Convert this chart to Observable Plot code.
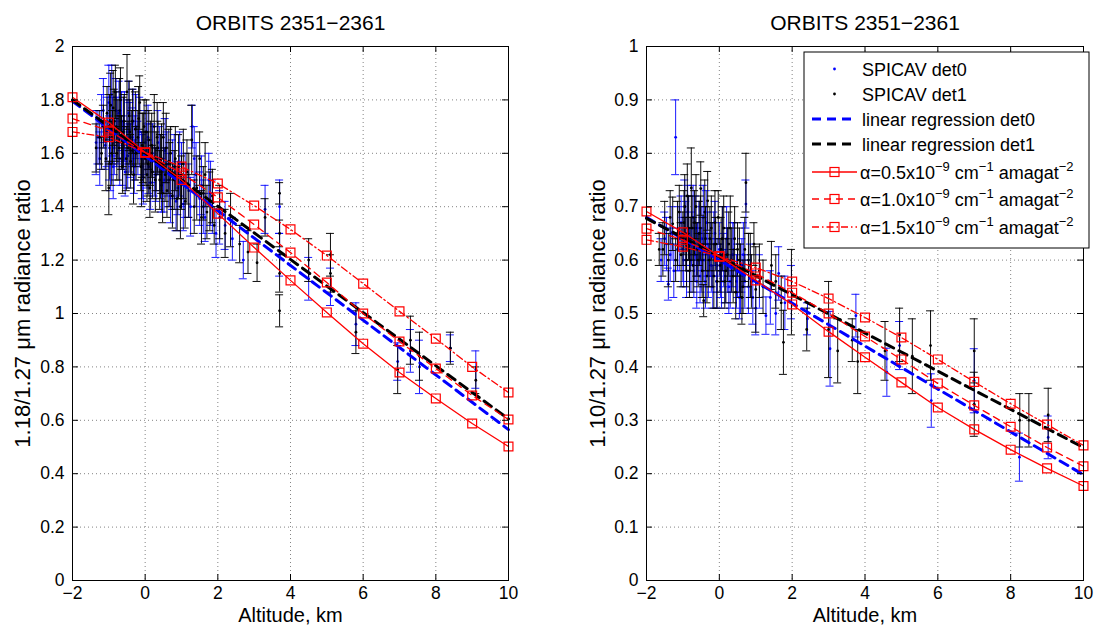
<!DOCTYPE html>
<html><head><meta charset="utf-8">
<script src="https://cdn.jsdelivr.net/npm/d3@7"></script>
<script src="https://cdn.jsdelivr.net/npm/@observablehq/plot@0.6"></script>
<style>body{margin:0;background:#fff}#wrap{display:flex;width:1096px;height:627px;background:#fff}</style>
</head><body><div id="wrap"></div><script>
const FONT = "'Liberation Sans', Arial, Helvetica, sans-serif";
const BLUE = "#0000ff", RED = "#ff0000";
const title = "ORBITS 2351−2361";
const xLabel = "Altitude, km";
const leftYLabel = "1.18/1.27 μm radiance ratio";
const rightYLabel = "1.10/1.27 μm radiance ratio";
const xTicks = [-2, 0, 2, 4, 6, 8, 10];
const leftYTicks = [0, 0.2, 0.4, 0.6, 0.8, 1, 1.2, 1.4, 1.6, 1.8, 2];
const rightYTicks = [0, 0.1, 0.2, 0.3, 0.4, 0.5, 0.6, 0.7, 0.8, 0.9, 1];
const legendLabels = ["SPICAV det0", "SPICAV det1", "linear regression det0", "linear regression det1"];
const alphaLabels = ["0.5", "1.0", "1.5"];

// model curves at integer altitudes
const modelAlt = [-2, -1, 0, 1, 2, 3, 4, 5, 6, 7, 8, 9, 10];
const leftA05 = [1.81, 1.715, 1.603, 1.50, 1.374, 1.247, 1.124, 1.004, 0.887, 0.779, 0.682, 0.588, 0.502];
const leftA10 = [1.73, 1.685, 1.603, 1.525, 1.435, 1.333, 1.228, 1.116, 1.0, 0.895, 0.794, 0.693, 0.603];
const leftA15 = [1.68, 1.66, 1.603, 1.55, 1.487, 1.404, 1.315, 1.217, 1.112, 1.008, 0.906, 0.80, 0.704];
const rightA05 = [0.691, 0.652, 0.607, 0.562, 0.517, 0.466, 0.418, 0.371, 0.324, 0.283, 0.245, 0.210, 0.177];
const rightA10 = [0.659, 0.638, 0.607, 0.575, 0.539, 0.500, 0.457, 0.414, 0.369, 0.328, 0.288, 0.249, 0.214];
const rightA15 = [0.638, 0.625, 0.607, 0.586, 0.560, 0.528, 0.4925, 0.455, 0.414, 0.372, 0.331, 0.292, 0.253];

// linear regressions (endpoints)
const regAlt = [-2, 10];
const leftReg0 = [1.795, 0.565];
const leftReg1 = [1.80, 0.605];
const rightReg0 = [0.68, 0.198];
const rightReg1 = [0.678, 0.249];

// observations [altitude, ratio, error]
const leftDet0 = [
  [-1.3,1.66,0.1],[-1.2,1.72,0.1],[-1.1,1.63,0.09],[-1.0,1.79,0.14],[-0.95,1.56,0.1],[-0.9,1.70,0.11],
  [-0.85,1.62,0.1],[-0.8,1.76,0.12],[-0.75,1.66,0.1],[-0.7,1.58,0.1],[-0.65,1.72,0.11],[-0.6,1.64,0.1],
  [-0.55,1.53,0.09],[-0.5,1.68,0.12],[-0.45,1.75,0.12],[-0.4,1.61,0.1],[-0.35,1.66,0.11],[-0.3,1.55,0.1],
  [-0.25,1.70,0.12],[-0.2,1.62,0.1],[-0.1,1.58,0.1],[-0.05,1.51,0.1],[0.0,1.64,0.12],[0.1,1.55,0.1],
  [0.15,1.49,0.1],[0.2,1.60,0.11],[0.3,1.52,0.1],[0.35,1.64,0.12],[0.45,1.48,0.1],[0.5,1.56,0.11],
  [0.55,1.61,0.12],[0.65,1.50,0.1],[0.7,1.44,0.1],[0.8,1.55,0.12],[0.9,1.47,0.1],[1.0,1.52,0.12],
  [1.05,1.41,0.1],[1.2,1.46,0.1],[1.3,1.70,0.08],[1.4,1.52,0.12],[1.5,1.43,0.1],[1.65,1.36,0.09],
  [1.75,1.50,0.1],[1.85,1.40,0.1],[1.95,1.30,0.09],
  [-1.35,1.64,0.12],[-1.25,1.58,0.1],[-1.15,1.76,0.12],[-1.05,1.68,0.13],[-0.98,1.62,0.12],[-0.92,1.82,0.11],
  [-0.88,1.55,0.12],[-0.78,1.68,0.13],[-0.72,1.75,0.12],[-0.62,1.60,0.12],[-0.57,1.70,0.13],[-0.48,1.59,0.12],
  [-0.42,1.66,0.13],[-0.33,1.72,0.12],[-0.28,1.62,0.12],[-0.15,1.68,0.13],[-0.08,1.55,0.12],[0.05,1.59,0.12],
  [0.08,1.66,0.12],[0.25,1.57,0.13],[0.4,1.58,0.12],[0.52,1.50,0.12],[0.6,1.56,0.12],[0.75,1.52,0.13],
  [0.85,1.42,0.11],[0.95,1.56,0.12],[1.1,1.48,0.12],[1.25,1.40,0.11],[1.35,1.58,0.12],[1.55,1.48,0.11],
  [1.6,1.40,0.1],[1.8,1.45,0.12],[2.05,1.36,0.1],[2.2,1.33,0.09],
  [2.4,1.28,0.08],[2.7,1.20,0.07],[3.3,1.39,0.09],[3.7,1.40,0.1],[3.7,1.22,0.08],[4.5,1.13,0.08],
  [5.1,1.10,0.07],[5.8,0.96,0.08],[6.95,0.82,0.07],[7.3,0.86,0.08],[7.55,0.80,0.1],[8.4,0.87,0.05],[9.1,0.79,0.07]
];
const leftDet1 = [
  [-1.35,1.62,0.09],[-1.2,1.60,0.06],[-1.15,1.70,0.08],[-1.05,1.75,0.1],[-1.0,1.47,0.1],[-0.95,1.78,0.12],
  [-0.9,1.66,0.1],[-0.85,1.72,0.12],[-0.82,1.83,0.1],[-0.78,1.60,0.1],[-0.75,1.69,0.11],[-0.7,1.76,0.12],
  [-0.65,1.64,0.1],[-0.62,1.55,0.1],[-0.58,1.72,0.1],[-0.5,1.83,0.14],[-0.47,1.62,0.1],[-0.42,1.68,0.12],
  [-0.4,1.57,0.1],[-0.35,1.72,0.12],[-0.25,1.60,0.1],[-0.2,1.66,0.1],[-0.15,1.79,0.1],[-0.12,1.55,0.09],
  [-0.08,1.63,0.12],[-0.03,1.70,0.1],[0.0,1.58,0.1],[0.05,1.52,0.1],[0.1,1.65,0.11],[0.15,1.60,0.12],
  [0.2,1.53,0.1],[0.25,1.70,0.12],[0.3,1.57,0.11],[0.35,1.62,0.1],[0.4,1.50,0.11],[0.45,1.58,0.13],
  [0.5,1.66,0.13],[0.55,1.52,0.1],[0.6,1.46,0.1],[0.65,1.57,0.12],[0.7,1.60,0.1],[0.8,1.50,0.11],
  [0.88,1.43,0.12],[0.92,1.55,0.12],[1.0,1.49,0.1],[1.1,1.42,0.1],[1.15,1.53,0.12],[1.28,1.65,0.13],
  [1.35,1.40,0.1],[1.5,1.58,0.1],[1.6,1.45,0.1],[1.7,1.38,0.1],[1.85,1.44,0.1],[1.9,1.33,0.07],
  [-1.25,1.66,0.1],[-1.08,1.58,0.12],[-0.98,1.69,0.13],[-0.92,1.60,0.12],[-0.88,1.77,0.14],[-0.8,1.70,0.13],
  [-0.72,1.62,0.12],[-0.68,1.80,0.12],[-0.6,1.68,0.13],[-0.52,1.58,0.12],[-0.44,1.74,0.13],[-0.37,1.64,0.12],
  [-0.32,1.52,0.11],[-0.27,1.69,0.14],[-0.18,1.73,0.12],[-0.1,1.50,0.1],[-0.05,1.62,0.13],[0.03,1.68,0.12],
  [0.08,1.56,0.12],[0.13,1.47,0.11],[0.18,1.63,0.12],[0.28,1.50,0.12],[0.33,1.66,0.13],[0.42,1.55,0.12],
  [0.48,1.45,0.11],[0.58,1.62,0.13],[0.68,1.52,0.12],[0.75,1.44,0.12],[0.83,1.58,0.12],[0.97,1.40,0.12],
  [1.05,1.56,0.13],[1.2,1.48,0.12],[1.42,1.47,0.12],[1.55,1.36,0.1],[1.65,1.52,0.12],[1.78,1.42,0.11],
  [2.05,1.38,0.1],[2.2,1.30,0.09],
  [2.35,1.35,0.1],[2.6,1.26,0.07],[2.83,1.23,0.08],[3.08,1.19,0.07],[3.3,1.36,0.07],[3.7,1.45,0.04],
  [3.7,1.30,0.05],[3.7,1.15,0.07],[3.7,1.01,0.06],[4.5,1.20,0.08],[5.1,1.22,0.08],[5.1,1.15,0.07],
  [5.8,0.93,0.08],[6.95,0.79,0.09],[7.3,0.90,0.09],[7.55,0.84,0.09],[8.4,0.87,0.06],[9.1,0.75,0.05]
];
const rightDet0 = [
  [-1.6,0.60,0.04],[-1.45,0.63,0.05],[-1.4,0.555,0.03],[-1.3,0.65,0.05],[-1.2,0.83,0.07],[-1.15,0.62,0.04],
  [-1.05,0.67,0.05],[-0.98,0.60,0.05],[-0.92,0.65,0.06],[-0.87,0.69,0.05],[-0.82,0.61,0.05],[-0.76,0.64,0.05],
  [-0.7,0.58,0.05],[-0.65,0.66,0.06],[-0.6,0.62,0.05],[-0.53,0.57,0.05],[-0.48,0.64,0.06],[-0.42,0.60,0.05],
  [-0.36,0.67,0.06],[-0.3,0.58,0.05],[-0.25,0.62,0.05],[-0.18,0.55,0.04],[-0.12,0.65,0.06],[-0.06,0.59,0.05],
  [0.0,0.62,0.05],[0.06,0.56,0.05],[0.12,0.60,0.05],[0.2,0.64,0.06],[0.26,0.55,0.05],[0.33,0.59,0.05],
  [0.4,0.62,0.05],[0.47,0.56,0.05],[0.55,0.53,0.04],[0.62,0.59,0.05],[0.7,0.56,0.05],[0.73,0.705,0.045],
  [0.85,0.58,0.05],[0.92,0.53,0.05],
  [-1.5,0.64,0.05],[-1.35,0.61,0.05],[-1.25,0.58,0.05],[-1.1,0.64,0.06],[-1.0,0.62,0.06],[-0.95,0.70,0.05],
  [-0.9,0.58,0.05],[-0.84,0.66,0.06],[-0.78,0.60,0.06],[-0.72,0.68,0.06],[-0.67,0.61,0.05],[-0.62,0.56,0.05],
  [-0.56,0.65,0.06],[-0.5,0.60,0.06],[-0.44,0.68,0.06],[-0.38,0.56,0.05],[-0.32,0.63,0.06],[-0.22,0.59,0.05],
  [-0.15,0.63,0.06],[-0.08,0.56,0.05],[0.03,0.58,0.05],[0.09,0.64,0.06],[0.16,0.57,0.05],[0.23,0.60,0.06],
  [0.3,0.56,0.05],[0.37,0.61,0.06],[0.5,0.58,0.05],[0.58,0.55,0.05],[0.66,0.61,0.06],[0.8,0.55,0.05],
  [1.1,0.56,0.05],[1.4,0.53,0.05],[1.55,0.50,0.04],[1.8,0.52,0.05],
  [1.0,0.51,0.05],[1.28,0.496,0.035],[1.63,0.575,0.05],[1.98,0.54,0.05],
  [2.42,0.49,0.03],[3.04,0.434,0.07],[3.75,0.496,0.04],[4.6,0.39,0.045],[4.95,0.44,0.045],[5.82,0.337,0.05],
  [7.0,0.374,0.06],[8.24,0.231,0.045],[9.03,0.268,0.04]
];
const rightDet1 = [
  [-1.65,0.62,0.03],[-1.5,0.66,0.05],[-1.28,0.668,0.05],[-1.2,0.60,0.04],[-1.1,0.69,0.05],[-1.0,0.64,0.05],
  [-0.95,0.70,0.06],[-0.9,0.60,0.05],[-0.85,0.66,0.06],[-0.8,0.63,0.05],[-0.77,0.735,0.075],[-0.72,0.59,0.05],
  [-0.68,0.67,0.06],[-0.62,0.62,0.05],[-0.55,0.65,0.06],[-0.51,0.734,0.05],[-0.47,0.58,0.05],[-0.43,0.524,0.03],
  [-0.38,0.64,0.06],[-0.32,0.711,0.055],[-0.28,0.60,0.05],[-0.22,0.66,0.06],[-0.15,0.57,0.06],[-0.1,0.63,0.05],
  [-0.03,0.68,0.05],[0.02,0.59,0.05],[0.08,0.64,0.06],[0.15,0.56,0.05],[0.22,0.61,0.05],[0.3,0.66,0.06],
  [0.38,0.57,0.05],[0.45,0.54,0.05],[0.5,0.62,0.05],[0.58,0.58,0.05],[0.65,0.55,0.05],[0.73,0.745,0.055],
  [0.8,0.60,0.05],[0.88,0.56,0.05],[0.95,0.63,0.04],
  [-1.55,0.62,0.05],[-1.4,0.60,0.05],[-1.35,0.68,0.05],[-1.15,0.65,0.06],[-1.05,0.61,0.06],[-0.97,0.67,0.06],
  [-0.92,0.63,0.05],[-0.88,0.72,0.06],[-0.82,0.58,0.05],[-0.75,0.66,0.06],[-0.7,0.62,0.06],[-0.64,0.70,0.06],
  [-0.58,0.60,0.05],[-0.52,0.66,0.06],[-0.45,0.62,0.06],[-0.4,0.69,0.06],[-0.34,0.57,0.05],[-0.26,0.64,0.06],
  [-0.2,0.61,0.06],[-0.12,0.67,0.06],[-0.06,0.56,0.05],[0.05,0.62,0.06],[0.12,0.66,0.06],[0.18,0.58,0.06],
  [0.26,0.63,0.06],[0.34,0.60,0.06],[0.42,0.64,0.06],[0.55,0.60,0.06],[0.62,0.53,0.05],[0.7,0.62,0.06],
  [0.85,0.59,0.06],[1.1,0.58,0.05],[1.2,0.55,0.05],[1.55,0.56,0.05],[1.7,0.52,0.05],
  [1.0,0.545,0.08],[1.43,0.59,0.045],[1.76,0.446,0.06],[1.98,0.54,0.08],[2.4,0.47,0.04],[3.0,0.47,0.09],
  [3.25,0.43,0.06],[3.65,0.45,0.04],[3.8,0.41,0.06],[4.55,0.43,0.055],[4.95,0.46,0.05],[5.3,0.42,0.07],
  [5.8,0.44,0.065],[7.0,0.43,0.06],[7.0,0.33,0.06],[8.25,0.30,0.05],[8.5,0.30,0.05],[9.03,0.31,0.05]
];

const fmt = d3.format("~g");
const capW = 0.11;

function panel(o) {
  const [y0, y1] = o.yDomain;
  const tlY = (y1 - y0) * 6 / 534;
  const tlX = 12 * 6 / 437;
  const rows = d => d.map(([a, v, e]) => ({a, v, e}));
  const d0 = rows(o.det0), d1 = rows(o.det1);
  const model = vals => modelAlt.map((a, i) => ({a, v: vals[i]}));
  const reg = vals => regAlt.map((a, i) => ({a, v: vals[i]}));
  const errMarks = (d, color, op) => [
    Plot.ruleX(d, {x: "a", y1: r => r.v - r.e, y2: r => r.v + r.e, stroke: color, strokeWidth: 1, strokeOpacity: op}),
    Plot.ruleY(d, {y: r => r.v - r.e, x1: r => r.a - capW, x2: r => r.a + capW, stroke: color, strokeOpacity: op}),
    Plot.ruleY(d, {y: r => r.v + r.e, x1: r => r.a - capW, x2: r => r.a + capW, stroke: color, strokeOpacity: op}),
    Plot.dot(d, {x: "a", y: "v", r: 1.4, fill: color})
  ];
  const lineOpts = dash => ({x: "a", y: "v", stroke: RED, strokeWidth: 1.3, strokeDasharray: dash});
  const sqOpts = {x: "a", y: "v", symbol: "square", r: 5, stroke: RED, strokeWidth: 1.2, fill: "none"};
  return Plot.plot({
    width: 548, height: 627,
    marginLeft: o.ml, marginRight: o.mr, marginTop: 46, marginBottom: 47,
    x: {domain: [-2, 10]},
    y: {domain: o.yDomain},
    style: {fontFamily: FONT, fontSize: "18px", color: "#000", background: "#fff", overflow: "visible"},
    marks: [
      Plot.gridX(xTicks, {stroke: "#777", strokeOpacity: 0.9, strokeDasharray: "1,3"}),
      Plot.gridY(o.yTicks, {stroke: "#777", strokeOpacity: 0.9, strokeDasharray: "1,3"}),
      ...errMarks(d0, BLUE, 0.9),
      ...errMarks(d1, "#000", 0.95),
      Plot.line(reg(o.reg0), {x: "a", y: "v", stroke: BLUE, strokeWidth: 3, strokeDasharray: "9,6"}),
      Plot.line(reg(o.reg1), {x: "a", y: "v", stroke: "#000", strokeWidth: 3, strokeDasharray: "9,6"}),
      Plot.line(model(o.a05), lineOpts(null)),
      Plot.line(model(o.a10), lineOpts("7,5")),
      Plot.line(model(o.a15), lineOpts("7,3,1.5,3")),
      Plot.dot(model(o.a05), sqOpts),
      Plot.dot(model(o.a10), sqOpts),
      Plot.dot(model(o.a15), sqOpts),
      Plot.frame({stroke: "#000"}),
      Plot.ruleX(xTicks, {y1: y0, y2: y0 + tlY, stroke: "#000"}),
      Plot.ruleX(xTicks, {y1: y1 - tlY, y2: y1, stroke: "#000"}),
      Plot.ruleY(o.yTicks, {x1: -2, x2: -2 + tlX, stroke: "#000"}),
      Plot.ruleY(o.yTicks, {x1: 10 - tlX, x2: 10, stroke: "#000"}),
      Plot.axisX(xTicks, {tickSize: 0, tickPadding: 6, tickFormat: fmt, fontSize: 17.5, label: null}),
      Plot.axisY(o.yTicks, {tickSize: 0, tickPadding: 8, tickFormat: fmt, fontSize: 17.5, label: null}),
      Plot.text([title], {frameAnchor: "top", lineAnchor: "middle", dy: -23, fontSize: 21, fill: "#000"}),
      Plot.text([xLabel], {frameAnchor: "bottom", lineAnchor: "middle", dy: 35.5, fontSize: 20, fill: "#000"}),
      Plot.text([o.ylabel], {frameAnchor: "left", textAnchor: "middle", lineAnchor: "middle", rotate: -90, dx: o.ydx, fontSize: 22, fill: "#000"})
    ]
  });
}

const left = panel({yDomain: [0, 2], yTicks: leftYTicks, ylabel: leftYLabel, det0: leftDet0, det1: leftDet1,
  reg0: leftReg0, reg1: leftReg1, a05: leftA05, a10: leftA10, a15: leftA15, ml: 72, mr: 40, ydx: -50});
const right = panel({yDomain: [0, 1], yTicks: rightYTicks, ylabel: rightYLabel, det0: rightDet0, det1: rightDet1,
  reg0: rightReg0, reg1: rightReg1, a05: rightA05, a10: rightA10, a15: rightA15, ml: 98, mr: 13, ydx: -49});

document.getElementById("wrap").append(left, right);

// legend (right panel)
const svg = d3.select(right);
const g = svg.append("g").attr("font-family", FONT).attr("font-size", 18).attr("text-anchor", "start").attr("fill", "#000");
g.append("rect").attr("x", 256).attr("y", 52).attr("width", 285).attr("height", 196)
  .attr("fill", "#fff").attr("stroke", "#000");
const rowY = [69, 94, 119, 144, 172, 199, 227];
const sx1 = 264, sx2 = 309, sxm = 286.5, tx = 314;
[BLUE, "#000"].forEach((c, i) => {
  g.append("circle").attr("cx", sxm).attr("cy", rowY[i]).attr("r", 1.4).attr("fill", c);
});
[BLUE, "#000"].forEach((c, i) => {
  g.append("line").attr("x1", sx1).attr("x2", sx2).attr("y1", rowY[i + 2]).attr("y2", rowY[i + 2])
    .attr("stroke", c).attr("stroke-width", 3).attr("stroke-dasharray", "9,6");
});
legendLabels.forEach((t, i) => {
  g.append("text").attr("x", tx).attr("y", rowY[i] + 6.5).text(t);
});
const dashes = [null, "7,5", "7,3,1.5,3"];
alphaLabels.forEach((a, i) => {
  const y = rowY[i + 4];
  const ln = g.append("line").attr("x1", sx1).attr("x2", sx2).attr("y1", y).attr("y2", y)
    .attr("stroke", RED).attr("stroke-width", 1.3);
  if (dashes[i]) ln.attr("stroke-dasharray", dashes[i]);
  g.append("rect").attr("x", sxm - 4.5).attr("y", y - 4.5).attr("width", 9).attr("height", 9)
    .attr("fill", "none").attr("stroke", RED).attr("stroke-width", 1.2);
  const t = g.append("text").attr("x", tx - 2).attr("y", y + 7);
  t.append("tspan").text("α=" + a + "x10");
  t.append("tspan").attr("dy", -8).attr("font-size", 13).text("−9");
  t.append("tspan").attr("dy", 8).text(" cm");
  t.append("tspan").attr("dy", -8).attr("font-size", 13).text("−1");
  t.append("tspan").attr("dy", 8).text(" amagat");
  t.append("tspan").attr("dy", -8).attr("font-size", 13).text("−2");
});
</script></body></html>
